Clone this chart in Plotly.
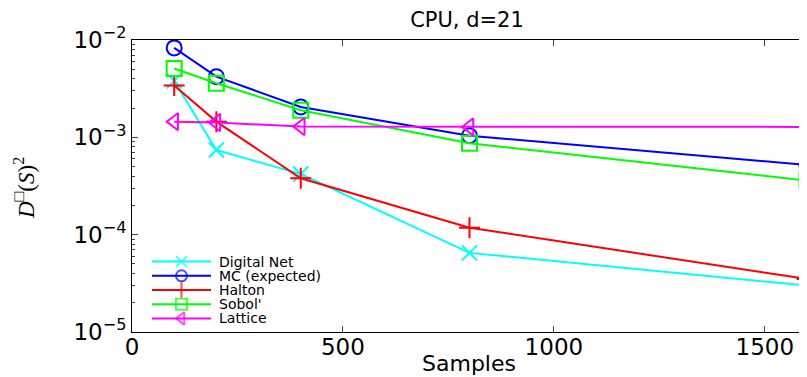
import plotly.graph_objects as go

samples = [100, 200, 400, 800, 1600]
digital_net = [3.8e-3, 7.4e-4, 4.2e-4, 6.5e-5, 3.0e-5]
mc_expected = [8.3e-3, 4.2e-3, 2.05e-3, 1.04e-3, 5.2e-4]
halton = [3.4e-3, 1.45e-3, 3.8e-4, 1.18e-4, 3.5e-5]
sobol = [5.1e-3, 3.6e-3, 1.9e-3, 8.7e-4, 3.6e-4]
lattice = [1.45e-3, 1.42e-3, 1.29e-3, 1.28e-3, 1.28e-3]

series_names = ["Digital Net", "MC (expected)", "Halton", "Sobol'", "Lattice"]
series_values = [digital_net, mc_expected, halton, sobol, lattice]
series_colors = ["#00FFFF", "#0000FF", "#FF0000", "#00FF00", "#FF00FF"]
series_symbols = ["x-thin-open", "circle-open", "cross-thin-open", "square-open", "triangle-left-open"]

y_tickvals = [1e-5, 1e-4, 1e-3, 1e-2]
y_ticktext = ["10<sup>−5</sup>", "10<sup>−4</sup>", "10<sup>−3</sup>", "10<sup>−2</sup>"]
x_tickvals = [0, 500, 1000, 1500]
x_ticktext = ["0", "500", "1000", "1500"]

SANS = "DejaVu Sans, Liberation Sans, Arial, sans-serif"
SERIF = "Liberation Serif, DejaVu Serif, serif"

# page body has an 8px margin; lay the figure out in screen pixels minus that offset
OFF = 8
W, H = 807 - OFF, 377 - OFF
L, R, T, B = 132 - OFF, 0, 40 - OFF, 45
PW, PH = W - L - R, H - T - B


def px_x(p):
    return (p - OFF - L) / PW


def px_y(p):
    return (H - B - (p - OFF)) / PH


fig = go.Figure()
for name, vals, color, sym in zip(series_names, series_values, series_colors, series_symbols):
    fig.add_trace(go.Scatter(
        x=samples, y=vals, name=name, mode="lines+markers",
        line=dict(color=color, width=2),
        marker=dict(symbol=sym, size=15, color=color,
                    line=dict(color=color, width=2)),
        showlegend=False, xaxis="x", yaxis="y",
    ))

# compact legend drawn in its own hidden subplot
n = len(series_names)
for i, (name, color, sym) in enumerate(zip(series_names, series_colors, series_symbols)):
    fig.add_trace(go.Scatter(
        x=[0, 0.5, 1], y=[i, i, i], mode="lines+markers",
        line=dict(color=color, width=2),
        marker=dict(symbol=sym, size=[0, 11, 0], color=color,
                    line=dict(color=color, width=2)),
        showlegend=False, hoverinfo="skip", cliponaxis=False,
        xaxis="x2", yaxis="y2",
    ))
    fig.add_annotation(
        text=name, xref="paper", yref="y2", x=px_x(217), y=i,
        xanchor="left", yanchor="middle", showarrow=False,
        font=dict(size=14, family=SANS, color="black"),
    )

fig.update_layout(
    width=W, height=H,
    margin=dict(l=L, r=R, t=T, b=B, autoexpand=False),
    paper_bgcolor="white", plot_bgcolor="rgba(0,0,0,0)",
    font=dict(family=SANS, color="black"),
    title=dict(text="CPU, d=21", x=px_x(467), xref="paper", xanchor="center",
               y=1 - (20 - OFF) / H, yanchor="middle",
               font=dict(size=21, family=SANS)),
    showlegend=False,
    xaxis=dict(
        range=[0, 1600], tickvals=x_tickvals, ticktext=x_ticktext,
        ticks="inside", ticklen=6, ticklabelstandoff=-6,
        showline=True, linecolor="black", linewidth=1, mirror="ticks",
        showgrid=False, zeroline=False, automargin=False,
        tickfont=dict(size=23, family=SANS),
    ),
    yaxis=dict(
        type="log", range=[-5, -2], tickvals=y_tickvals, ticktext=y_ticktext,
        ticks="inside", ticklen=6,
        showline=True, linecolor="black", linewidth=1, mirror="ticks",
        showgrid=False, zeroline=False, automargin=False,
        tickfont=dict(size=23, family=SANS),
        minor=dict(ticks="inside", ticklen=3, showgrid=False,
                   tickvals=[m * 10 ** e for e in (-5, -4, -3) for m in range(2, 10)]),
    ),
    xaxis2=dict(domain=[px_x(152), px_x(211)], range=[0, 1], anchor="y2",
                visible=False, fixedrange=True),
    yaxis2=dict(domain=[px_y(325.5), px_y(254.5)], range=[n - 0.5, -0.5], anchor="x2",
                visible=False, fixedrange=True),
    annotations=list(fig.layout.annotations) + [
        dict(text="Samples", xref="paper", yref="paper", x=px_x(469), y=px_y(363),
             xanchor="center", yanchor="middle", showarrow=False,
             font=dict(size=22, family=SANS)),
        dict(text="<i>D</i><sup>□</sup>(<i>S</i>)<sup>2</sup>", xref="paper", yref="paper",
             x=px_x(24), y=px_y(188), xanchor="center", yanchor="middle",
             textangle=-90, showarrow=False,
             font=dict(size=23, family=SERIF)),
    ],
)

fig.write_html("out.html")
